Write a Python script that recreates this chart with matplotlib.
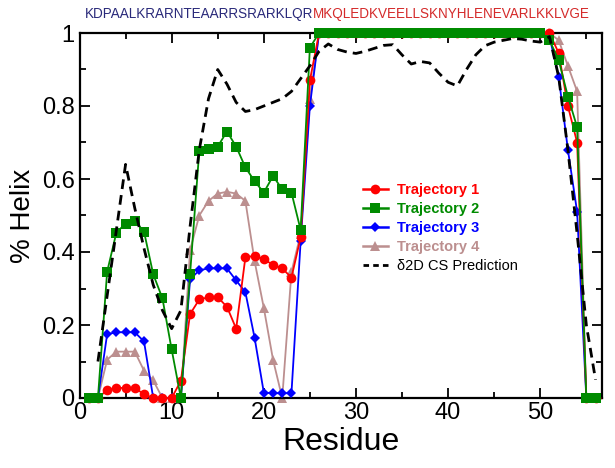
import numpy as np
import matplotlib
matplotlib.use("Agg")
import matplotlib.pyplot as plt
from matplotlib.lines import Line2D

plt.rcParams['font.family'] = ['Liberation Sans', 'DejaVu Sans']

residues = np.arange(1, 57)
plateau = [1.0] * 25  # residues 26-50

traj1 = [0, 0, 0.022, 0.027, 0.028, 0.028, 0.01, 0, 0, 0, 0.047, 0.23, 0.27, 0.276, 0.276,
         0.25, 0.19, 0.385, 0.39, 0.38, 0.365, 0.355, 0.33, 0.44, 0.87] + plateau + \
        [1.0, 0.945, 0.80, 0.70, 0, 0]
traj2 = [0, 0, 0.346, 0.453, 0.478, 0.485, 0.456, 0.339, 0.273, 0.133, 0, 0.34, 0.678, 0.682, 0.689,
         0.73, 0.689, 0.632, 0.594, 0.563, 0.608, 0.572, 0.563, 0.46, 0.96] + plateau + \
        [0.98, 0.926, 0.826, 0.742, 0, 0]
traj3 = [0, 0, 0.175, 0.18, 0.18, 0.18, 0.155, 0, 0, 0, 0, 0.325, 0.35, 0.355, 0.355,
         0.355, 0.322, 0.29, 0.165, 0.015, 0.013, 0.013, 0.013, 0.43, 0.80] + plateau + \
        [0.99, 0.88, 0.68, 0.51, 0, 0]
traj4 = [0, 0, 0.105, 0.127, 0.127, 0.127, 0.075, 0.048, 0, 0, 0, 0.405, 0.50, 0.54, 0.56,
         0.565, 0.56, 0.54, 0.375, 0.247, 0.105, 0.0, 0.345, 0.45, 0.82] + plateau + \
        [1.0, 0.98, 0.91, 0.84, 0, 0]

cs_res = np.arange(2, 57)
cs_pred = [0.10, 0.28, 0.46, 0.64, 0.52, 0.41, 0.31, 0.24, 0.19, 0.24, 0.47, 0.68, 0.82, 0.90,
           0.86, 0.81, 0.785, 0.79, 0.80, 0.81, 0.82, 0.84, 0.875, 0.91, 0.95, 0.97, 0.955, 0.948,
           0.944, 0.95, 0.958, 0.966, 0.968, 0.94, 0.915, 0.922, 0.918, 0.89, 0.865, 0.855, 0.90,
           0.94, 0.965, 0.975, 0.98, 0.985, 0.983, 0.978, 0.975, 0.99, 0.88, 0.68, 0.45, 0.2, 0.05]

seq_n = "KDPAALKRARNTEAARRSRARKLQR"
seq_c = "MKQLEDKVEELLSKNYHLENEVARLKKLVGE"
labels = ["Trajectory 1", "Trajectory 2", "Trajectory 3", "Trajectory 4", "\u03b42D CS Prediction"]
colors = ["#ff0000", "#008b00", "#0000ff", "#bc8f8f", "black"]
markers = ["o", "s", "D", "^"]
msizes = [7, 6.5, 5.5, 7]

W, H = 615, 468
fig = plt.figure(figsize=(W / 100, H / 100), dpi=100)
L, R, T, B = 79.5, 602, 33, 398
ax = fig.add_axes([L / W, 1 - B / H, (R - L) / W, (B - T) / H])

series = [traj1, traj2, traj3, traj4]
zorders = [4, 5, 3, 2]
for s, c, m, ms, z in zip(series, colors, markers, msizes, zorders):
    ax.plot(residues, s, color=c, marker=m, markersize=ms, lw=1.3, clip_on=False, zorder=z,
            markeredgewidth=0)
ax.plot(cs_res, cs_pred, color="black", lw=2.0, dashes=(3.5, 2.2), zorder=6)

ax.set_xlim(0, 56.7)
ax.set_ylim(0, 1)
ax.set_xticks([0, 10, 20, 30, 40, 50])
ax.set_yticks([0, 0.2, 0.4, 0.6, 0.8, 1.0])
ax.set_yticklabels(["0", "0.2", "0.4", "0.6", "0.8", "1"])
ax.set_xticks(np.arange(5, 56, 10), minor=True)
ax.set_yticks(np.arange(0.1, 1.0, 0.2), minor=True)
ax.tick_params(which="both", direction="in", top=True, right=True, labelsize=17, width=1.3)
ax.tick_params(which="major", length=7)
ax.tick_params(which="minor", length=4.5)
ax.tick_params(axis="x", pad=3)
for sp in ax.spines.values():
    sp.set_linewidth(1.6)

ax.set_xlabel("Residue", fontsize=23, labelpad=2)
ax.set_ylabel("% Helix", fontsize=20, labelpad=4)

handles = []
for c, m, ms in zip(colors[:4], markers, msizes):
    handles.append(Line2D([], [], color=c, marker=m, markersize=ms, lw=1.8, markeredgewidth=0))
handles.append(Line2D([], [], color="black", lw=2.0, dashes=(2, 1.5)))
leg = fig.legend(handles, labels, loc="upper left", bbox_to_anchor=(363 / W, 1 - 183 / H),
                 frameon=False, fontsize=10.5, handlelength=1.7, handletextpad=0.6,
                 labelspacing=0.35, borderpad=0, borderaxespad=0)
for t, c in zip(leg.get_texts(), colors):
    t.set_color(c)
    if c != "black":
        t.set_fontweight("bold")

# sequence text across the top, fitted to span 85..592 px
x0, x1, yc = 85, 592, 14
fs = 10.0
t1 = fig.text(x0 / W, 1 - yc / H, seq_n, color="#2a2a7a", fontsize=fs, va="center", ha="left")
t2 = fig.text(x0 / W, 1 - yc / H, seq_c, color="#d42a2a", fontsize=fs, va="center", ha="left")
fig.canvas.draw()
r = fig.canvas.get_renderer()
wtot = t1.get_window_extent(r).width + t2.get_window_extent(r).width
fs = fs * (x1 - x0) / wtot
t1.set_fontsize(fs)
t2.set_fontsize(fs)
fig.canvas.draw()
bb = t1.get_window_extent(r)
t2.set_x(bb.x1 / W)

fig.savefig("out.png", dpi=100)
